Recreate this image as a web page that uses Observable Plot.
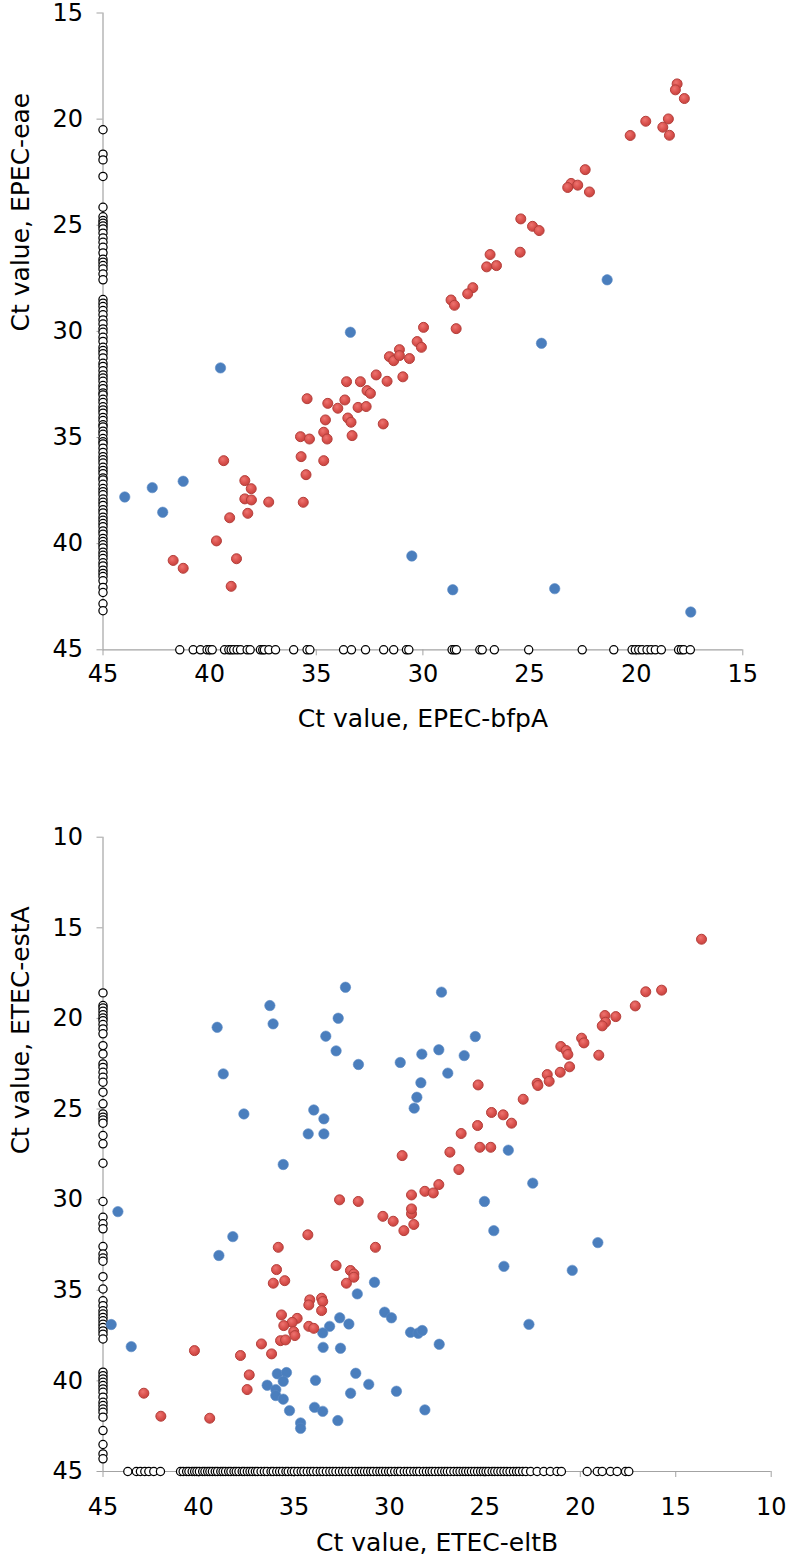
<!DOCTYPE html>
<html>
<head>
<meta charset="utf-8">
<script src="https://cdn.jsdelivr.net/npm/d3@7"></script>
<script src="https://cdn.jsdelivr.net/npm/@observablehq/plot@0.6"></script>
<style>
  html, body { margin: 0; padding: 0; background: #fff; }
  #chart svg { display: block; }
</style>
</head>
<body>
<div id="chart"></div>
<script>
// ---------- Top panel: EPEC ----------
const topTitleX = "Ct value, EPEC-bfpA";
const topTitleY = "Ct value, EPEC-eae";
const topXTicks = [45, 40, 35, 30, 25, 20, 15];
const topYTicks = [15, 20, 25, 30, 35, 40, 45];

// both targets positive (red)
const topRedX = [18.08, 18.16, 17.74, 19.55, 18.49, 18.75, 18.44, 20.28, 22.39, 23.05, 23.21, 22.74, 22.19, 25.41, 24.86, 24.55, 25.44, 26.85, 27.01, 26.55, 27.66, 27.90, 28.68, 28.52, 28.44, 29.97, 30.27, 30.07, 31.10, 31.57, 31.37, 31.10, 30.63, 30.94, 31.68, 31.86, 32.19, 33.58, 32.93, 32.62, 32.46, 33.66, 33.04, 32.66, 33.99, 34.46, 35.43, 33.52, 33.37, 34.57, 33.32, 34.65, 34.49, 35.74, 35.32, 35.71, 34.65, 35.48, 35.61, 39.34, 38.35, 38.05, 38.35, 38.04, 37.23, 38.21, 39.06, 39.68, 41.71, 41.24, 38.74, 38.99];
const topRedY = [18.34, 18.62, 19.03, 20.10, 19.99, 20.38, 20.76, 20.77, 22.38, 23.03, 23.22, 23.11, 23.43, 24.70, 25.05, 25.25, 26.27, 26.38, 26.96, 26.90, 27.94, 28.23, 28.52, 28.77, 29.87, 29.81, 30.48, 30.75, 30.86, 31.19, 31.38, 31.14, 31.28, 32.14, 32.35, 34.36, 32.05, 32.37, 32.37, 32.79, 32.92, 33.23, 33.58, 33.54, 33.62, 33.39, 33.17, 34.08, 34.28, 34.17, 34.91, 34.75, 35.07, 34.96, 35.07, 35.90, 36.09, 36.75, 38.05, 36.09, 37.03, 37.41, 37.89, 37.94, 38.04, 38.57, 38.78, 39.87, 40.79, 41.16, 40.71, 42.01];
// discordant (blue)
const topBlueX = [21.36, 24.44, 33.40, 39.49, 43.98, 42.69, 42.20, 41.24, 30.52, 28.60, 23.82, 17.44];
const topBlueY = [27.57, 30.56, 30.04, 31.72, 37.80, 37.36, 38.52, 37.06, 40.58, 42.17, 42.12, 43.22];
// only eae detected (open circles on x = 45)
const topOnlyY = [20.5, 21.65, 21.92, 22.7, 24.15, 24.6, 24.78, 24.9, 25.03, 25.17, 25.37, 25.6, 25.8, 26.04, 26.3, 26.6, 26.74, 26.9, 27.06, 27.3, 27.57, 28.5, 28.67, 28.83, 29.02, 29.22, 29.46, 29.65, 29.88, 30.04, 30.28, 30.47, 30.75, 30.9, 31.05, 31.25, 31.5, 31.65, 31.85, 32.05, 32.2, 32.35, 32.55, 32.7, 32.9, 33.0, 33.2, 33.35, 33.55, 33.7, 33.85, 34.05, 34.2, 34.4, 34.5, 34.7, 34.85, 35.05, 35.2, 35.3, 35.5, 35.7, 35.9, 36.05, 36.2, 36.4, 36.55, 36.7, 36.9, 37.0, 37.2, 37.4, 37.55, 37.7, 37.9, 38.05, 38.2, 38.4, 38.55, 38.75, 38.9, 39.05, 39.2, 39.4, 39.55, 39.75, 39.9, 40.05, 40.2, 40.4, 40.55, 40.7, 40.9, 41.05, 41.25, 41.4, 41.55, 41.75, 42.06, 42.3, 42.83, 43.16];
// only bfpA detected (open circles on y = 45)
const topOnlyX = [41.40, 40.77, 40.43, 40.12, 40.0, 39.88, 39.30, 39.10, 38.99, 38.87, 38.71, 38.55, 38.24, 38.1, 37.62, 37.51, 37.43, 37.22, 36.91, 36.06, 35.43, 35.3, 33.72, 33.35, 32.69, 31.84, 31.37, 30.77, 30.66, 28.63, 28.52, 28.43, 27.33, 27.22, 26.65, 25.04, 22.53, 21.05, 20.19, 20.04, 19.88, 19.72, 19.49, 19.3, 19.10, 18.82, 18.01, 17.88, 17.77, 17.46];

// ---------- Bottom panel: ETEC ----------
const botTitleX = "Ct value, ETEC-eltB";
const botTitleY = "Ct value, ETEC-estA";
const botXTicks = [45, 40, 35, 30, 25, 20, 15, 10];
const botYTicks = [10, 15, 20, 25, 30, 35, 40, 45];

const botRedX = [13.65, 15.74, 16.57, 17.12, 18.14, 18.71, 18.68, 18.85, 19.93, 19.81, 19.03, 21.02, 20.74, 20.65, 20.56, 21.05, 21.73, 21.63, 22.26, 22.22, 22.99, 24.65, 24.04, 23.60, 25.35, 25.38, 26.24, 25.26, 24.69, 26.83, 26.36, 29.33, 32.61, 31.63, 30.34, 29.80, 29.24, 28.72, 28.84, 28.84, 28.84, 28.14, 27.70, 27.41, 30.73, 34.27, 35.82, 35.91, 36.08, 35.48, 32.79, 32.04, 31.86, 31.86, 32.25, 34.17, 34.22, 33.55, 33.49, 33.55, 35.65, 34.83, 35.09, 35.53, 34.22, 33.96, 35.01, 34.95, 35.70, 35.44, 36.70, 36.17, 37.80, 40.21, 37.34, 37.45, 42.86, 41.97, 39.41];
const botRedY = [15.63, 18.44, 18.53, 19.31, 19.90, 19.84, 20.21, 20.41, 21.09, 21.35, 22.03, 21.55, 21.77, 21.99, 22.67, 22.97, 23.10, 23.47, 23.58, 23.70, 24.46, 25.19, 25.32, 25.78, 23.67, 25.91, 26.35, 27.11, 27.11, 27.38, 28.34, 27.57, 30.01, 30.10, 30.92, 31.19, 31.71, 31.37, 30.78, 30.51, 29.74, 29.54, 29.63, 29.17, 32.63, 31.94, 32.63, 33.86, 34.61, 34.47, 33.64, 33.91, 34.10, 34.28, 34.61, 35.53, 35.81, 35.44, 35.62, 36.12, 36.36, 36.55, 36.77, 36.95, 36.99, 37.10, 37.28, 37.50, 37.78, 37.74, 37.96, 38.51, 38.60, 38.33, 39.67, 40.48, 40.68, 41.95, 42.06];
const botBlueX = [27.27, 25.50, 29.43, 28.30, 27.41, 26.08, 26.94, 28.35, 28.56, 28.70, 23.77, 22.49, 32.30, 36.26, 36.09, 39.02, 32.68, 33.33, 32.79, 31.62, 38.70, 37.62, 33.96, 33.43, 34.25, 33.43, 35.56, 44.22, 38.20, 38.93, 44.57, 43.52, 30.78, 31.68, 30.25, 29.89, 32.60, 32.12, 33.13, 33.49, 33.47, 32.56, 35.87, 35.39, 35.56, 36.40, 35.95, 35.95, 35.56, 33.87, 31.76, 31.08, 32.03, 29.63, 35.23, 33.92, 33.49, 32.70, 34.65, 34.65, 25.02, 24.53, 24.00, 20.42, 19.08, 22.69, 28.89, 28.49, 28.28, 27.39, 28.14];
const botBlueY = [18.55, 21.00, 22.43, 21.97, 21.73, 22.05, 23.02, 23.55, 24.35, 24.95, 27.27, 29.09, 18.28, 19.29, 20.30, 20.49, 19.99, 20.98, 21.79, 22.54, 23.06, 25.27, 25.05, 25.54, 26.37, 26.37, 28.06, 30.66, 32.04, 33.08, 36.89, 38.11, 34.56, 35.20, 36.21, 36.52, 36.52, 36.86, 36.99, 37.35, 38.15, 38.20, 39.61, 39.54, 40.02, 40.24, 40.48, 40.81, 41.01, 39.97, 39.58, 40.19, 40.68, 40.57, 41.64, 41.46, 41.68, 42.19, 42.32, 42.62, 30.10, 31.71, 33.68, 33.90, 32.37, 36.88, 37.32, 37.37, 37.22, 37.98, 41.60];
const botOnlyY = [18.59, 19.29, 19.42, 19.6, 19.79, 19.97, 20.12, 20.34, 20.58, 20.85, 21.5, 21.96, 22.51, 22.7, 22.97, 23.25, 23.52, 24.07, 24.71, 25.27, 25.45, 25.6, 25.78, 26.46, 26.92, 27.99, 30.1, 30.97, 31.33, 31.61, 32.59, 33.0, 33.22, 33.4, 34.25, 34.93, 35.58, 35.85, 36.13, 36.31, 36.5, 36.68, 36.87, 37.05, 37.24, 37.42, 37.69, 39.52, 39.71, 39.89, 40.08, 40.26, 40.44, 40.63, 40.9, 41.18, 41.36, 41.55, 41.73, 42.0, 42.74, 43.51, 44.03, 44.3];
const botOnlyX = [43.70, 43.25, 43.04, 42.81, 42.60, 42.34, 41.99, 40.94, 40.8, 40.62, 40.5, 40.33, 40.2, 40.08, 39.95, 39.78, 39.66, 39.52, 39.4, 39.27, 39.12, 39.0, 38.83, 38.71, 38.58, 38.42, 38.3, 38.14, 38.02, 37.88, 37.71, 37.6, 37.44, 37.3, 37.17, 37.02, 36.9, 36.72, 36.55, 36.4, 36.2, 36.08, 35.9, 35.75, 35.6, 35.42, 35.3, 35.12, 34.98, 34.8, 34.62, 34.48, 34.3, 34.12, 33.98, 33.8, 33.62, 33.48, 33.3, 33.12, 32.96, 32.8, 32.62, 32.45, 32.3, 32.12, 31.96, 31.78, 31.6, 31.46, 31.3, 31.14, 30.98, 30.84, 30.66, 30.5, 30.36, 30.2, 30.04, 29.9, 29.72, 29.55, 29.42, 29.22, 29.06, 28.9, 28.72, 28.56, 28.42, 28.22, 28.06, 27.9, 27.76, 27.6, 27.42, 27.26, 27.1, 26.96, 26.8, 26.62, 26.45, 26.3, 26.14, 26.0, 25.85, 25.7, 25.54, 25.38, 25.22, 25.08, 24.94, 24.8, 24.62, 24.48, 24.32, 24.16, 24.0, 23.84, 23.68, 23.5, 23.34, 23.2, 23.02, 22.85, 22.6, 22.26, 21.91, 21.57, 21.22, 20.99, 19.64, 19.11, 18.85, 18.42, 18.07, 17.63, 17.46];

// ---------- drawing ----------
const FONT = "'DejaVu Sans', 'Liberation Sans', sans-serif";
const AXIS = "#a3a3a3";
const RED_STROKE = "#b43f3b";
const BLUE = "#4a7ebd";

function panel(o) {
  const red = o.redX.map((x, i) => ({x, y: o.redY[i]}));
  const blue = o.blueX.map((x, i) => ({x, y: o.blueY[i]}));
  const gid = "redGrad" + o.id;
  const svg = Plot.plot({
    width: 786,
    height: o.height,
    marginLeft: 102.5,
    marginRight: o.marginRight,
    marginTop: o.marginTop,
    marginBottom: o.marginBottom,
    style: {fontFamily: FONT, background: "#fff", color: "#000", overflow: "visible"},
    x: {domain: o.xDomain, axis: null},
    y: {domain: o.yDomain, axis: null},
    marks: [
      Plot.ruleX([o.xDomain[0]], {stroke: AXIS, strokeWidth: 1.2}),
      Plot.ruleY([o.yDomain[0]], {stroke: AXIS, strokeWidth: 1.2}),
      Plot.axisX({ticks: o.xTicks, tickSize: 6, tickPadding: o.xPad, stroke: AXIS, fill: "#000", fontSize: 24, tickFormat: d => String(d), label: null}),
      Plot.axisY({ticks: o.yTicks, tickSize: 6, tickPadding: 14, stroke: AXIS, fill: "#000", fontSize: 24, tickFormat: d => String(d), label: null}),
      Plot.dot(o.onlyY, {x: () => o.xDomain[0], y: d => d, r: 4.1, stroke: "#000", strokeWidth: 1.25, fill: "#fff"}),
      Plot.dot(o.onlyX, {x: d => d, y: () => o.yDomain[0], r: 4.1, stroke: "#000", strokeWidth: 1.25, fill: "#fff"}),
      Plot.dot(blue, {x: "x", y: "y", r: 5.2, fill: BLUE, stroke: "#5a8ac4", strokeWidth: 0.6}),
      Plot.dot(red, {x: "x", y: "y", r: 5, fill: `url(#${gid})`, stroke: RED_STROKE, strokeWidth: 1}),
      Plot.text([o.titleX], {frameAnchor: "bottom", dy: o.titleDy, lineAnchor: "bottom", fontSize: 25, fill: "#000"}),
      Plot.text([o.titleY], {frameAnchor: "left", dx: -82, rotate: -90, lineAnchor: "middle", fontSize: 25, fill: "#000"})
    ]
  });
  const defs = d3.select(svg).insert("defs", ":first-child");
  const g = defs.append("radialGradient").attr("id", gid)
    .attr("cx", "40%").attr("cy", "35%").attr("r", "65%");
  g.append("stop").attr("offset", "0%").attr("stop-color", "#ee7470");
  g.append("stop").attr("offset", "60%").attr("stop-color", "#da524e");
  g.append("stop").attr("offset", "100%").attr("stop-color", "#c8443f");
  return svg;
}

const chart = document.getElementById("chart");
chart.append(panel({
  id: "top", height: 800, marginTop: 12.5, marginBottom: 150.7, marginRight: 43.7, xPad: 9, titleDy: 77,
  xDomain: [45, 15], yDomain: [45, 15], xTicks: topXTicks, yTicks: topYTicks,
  redX: topRedX, redY: topRedY, blueX: topBlueX, blueY: topBlueY,
  onlyY: topOnlyY, onlyX: topOnlyX, titleX: topTitleX, titleY: topTitleY
}));
chart.append(panel({
  id: "bot", height: 758, marginTop: 36.7, marginBottom: 87, marginRight: 15.3, xPad: 20, titleDy: 79,
  xDomain: [45, 10], yDomain: [45, 10], xTicks: botXTicks, yTicks: botYTicks,
  redX: botRedX, redY: botRedY, blueX: botBlueX, blueY: botBlueY,
  onlyY: botOnlyY, onlyX: botOnlyX, titleX: botTitleX, titleY: botTitleY
}));
</script>
</body>
</html>
